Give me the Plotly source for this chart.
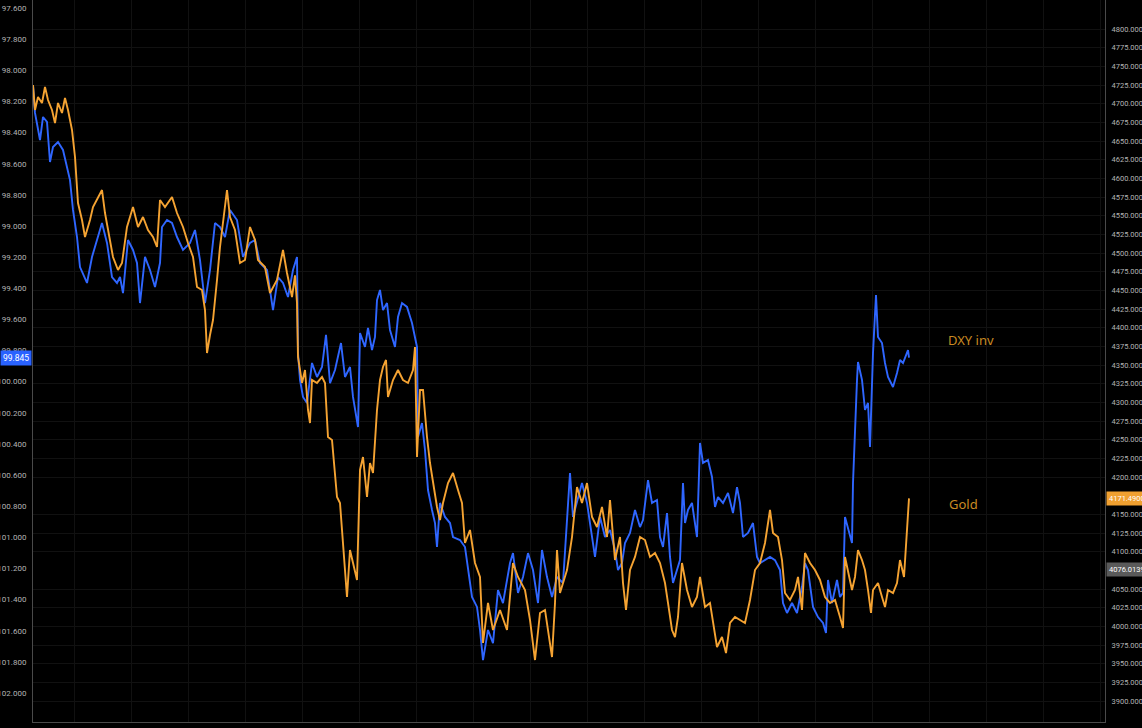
import plotly.graph_objects as go

# ---- data (bar index -> price) ----
dxy_t = [0,2,7,10,14,17,20,25,30,37,40,44,47,54,59,64,69,74,79,84,87,90,95,100,104,107,112,117,122,127,
         129,134,139,144,150,157,162,167,172,177,182,187,192,197,204,210,217,222,227,234,240,245,250,255,260,264,
         265,267,270,274,279,284,289,293,297,302,308,312,317,320,325,327,332,335,339,342,344,347,350,354,357,362,
         365,369,374,379,382,384,385,389,392,395,399,402,404,407,412,417,420,427,432,435,439,444,447,450,455,460,
         465,470,477,480,485,490,495,500,505,509,514,519,524,530,535,537,540,549,554,559,562,567,572,577,582,585,
         589,592,597,602,607,610,615,619,624,627,630,634,637,640,644,647,650,652,655,659,664,667,670,675,679,682,
         685,690,695,700,704,707,710,715,720,724,727,732,737,742,747,750,754,759,764,769,772,775,780,785,790,793,
         795,799,804,807,810,812,815,819,820,822,824,825,829,832,835,837,839,840,843,845,849,852,855,860,864,867,
         870,875,876]
dxy_inv = [98.095,98.274,98.448,98.300,98.332,98.589,98.493,98.461,98.512,98.705,98.897,99.071,99.264,99.366,
           99.199,99.090,98.981,99.109,99.328,99.366,99.328,99.431,99.090,99.154,99.238,99.495,99.199,99.283,
           99.392,99.238,99.007,98.962,98.981,99.071,99.154,99.109,99.026,99.219,99.495,99.283,98.981,99.007,
           99.071,98.897,98.962,99.199,99.109,99.090,99.238,99.283,99.540,99.328,99.366,99.456,99.283,99.199,
           99.816,99.989,100.098,100.137,99.880,99.970,99.906,99.700,100.009,99.925,99.752,99.970,99.906,100.098,
           100.291,99.688,99.777,99.655,99.797,99.713,99.476,99.411,99.540,99.495,99.668,99.777,99.585,99.495,
           99.520,99.623,99.713,99.777,100.355,100.266,100.439,100.696,100.824,100.908,101.062,100.779,100.869,
           100.908,100.998,101.017,101.062,101.210,101.383,101.447,101.595,101.788,101.595,101.679,101.338,
           101.422,101.165,101.101,101.357,101.255,101.101,101.210,101.422,101.081,101.255,101.383,101.255,
           101.293,100.824,100.587,100.869,100.651,100.779,100.998,101.126,100.869,100.998,100.953,101.081,
           101.210,101.165,101.036,100.972,100.824,100.934,100.889,100.632,100.779,100.760,100.998,101.062,
           100.844,101.126,101.293,101.210,101.146,100.651,100.908,100.824,100.779,100.998,100.394,100.522,
           100.503,100.612,100.805,100.741,100.779,100.715,100.844,100.677,100.779,100.998,100.972,100.908,
           101.126,101.165,101.146,101.126,101.146,101.210,101.422,101.486,101.422,101.486,101.319,101.165,
           101.210,101.447,101.512,101.550,101.614,101.274,101.422,101.274,101.383,101.357,100.869,100.934,
           101.036,100.651,100.246,99.989,99.874,99.989,100.182,100.137,100.420,100.009,99.816,99.443,99.713,
           99.752,99.880,99.970,100.034,99.944,99.861,99.880,99.797,99.845]

gold_t = [0,2,5,9,12,15,19,22,25,29,32,35,39,42,45,49,52,57,60,65,69,72,75,80,85,89,94,100,105,110,115,120,
          124,127,132,139,144,150,155,160,164,169,172,174,177,180,184,187,194,197,202,207,212,217,222,225,232,
          237,244,250,254,259,262,264,265,269,272,275,277,279,284,289,292,295,299,302,304,307,310,314,317,320,
          324,327,330,334,337,340,344,347,350,353,355,360,365,370,375,380,382,384,387,390,394,397,400,404,407,
          410,415,420,425,429,432,437,442,447,450,455,460,467,474,480,485,492,497,502,507,512,519,522,524,527,
          534,539,544,549,554,559,564,569,574,577,582,587,590,593,597,602,607,612,617,622,627,632,635,639,642,
          645,649,654,659,664,667,672,677,680,684,689,693,697,702,707,712,717,722,727,732,737,740,745,749,752,
          757,762,765,769,772,777,782,787,792,797,802,807,810,812,815,819,822,825,829,832,835,838,840,845,849,
          852,855,860,864,867,871,874,876]
gold = [4725.0,4691.5,4708.9,4700.9,4722.3,4704.9,4691.5,4674.1,4700.9,4687.5,4707.6,4691.5,4664.8,4628.6,
        4567.0,4544.2,4521.5,4544.2,4561.6,4575.0,4584.4,4553.6,4530.8,4494.7,4477.3,4486.6,4534.9,4561.6,
        4534.9,4548.2,4530.8,4521.5,4508.1,4571.0,4561.6,4575.0,4553.6,4534.9,4513.4,4494.7,4454.5,4450.5,
        4423.7,4366.1,4390.2,4410.3,4463.9,4508.1,4584.4,4548.2,4530.8,4486.6,4490.7,4534.9,4517.4,4490.7,
        4481.3,4446.5,4463.9,4504.1,4473.3,4441.1,4470.0,4433.1,4360.8,4326.0,4343.4,4289.8,4272.4,4330.0,
        4326.0,4334.0,4326.0,4253.6,4249.6,4209.5,4173.3,4165.3,4111.7,4039.4,4102.3,4084.9,4062.2,4209.5,
        4226.9,4173.3,4218.8,4205.4,4289.8,4330.0,4347.4,4356.8,4307.2,4330.0,4343.4,4330.0,4326.0,4343.4,
        4374.2,4226.9,4316.6,4316.6,4253.6,4218.8,4192.0,4159.9,4142.5,4165.3,4192.0,4205.4,4182.7,4165.3,
        4111.7,4129.1,4084.9,4066.2,3977.8,4031.4,3995.2,4022.0,3995.2,4084.9,4066.2,4048.8,4008.6,3955.0,
        4018.0,4022.0,3959.0,4031.4,4102.3,4044.7,4075.5,4119.7,4186.7,4165.3,4192.0,4146.5,4133.1,4159.9,
        4119.7,4169.3,4088.9,4119.7,4058.1,4022.0,4075.5,4093.0,4119.7,4115.7,4093.0,4098.3,4084.9,4058.1,
        4031.4,3995.2,3985.8,4012.6,4084.9,4048.8,4026.0,4039.4,4066.2,4026.0,4031.4,4004.6,3972.4,3985.8,
        3964.4,4004.6,4012.6,4008.6,4004.6,4035.4,4075.5,4084.9,4111.7,4155.9,4125.1,4119.7,4088.9,4044.7,
        4035.4,4048.8,4066.2,4022.0,4098.3,4084.9,4075.5,4062.2,4039.4,4031.4,4035.4,4012.6,3997.9,4093.0,
        4075.5,4048.8,4066.2,4102.3,4088.9,4075.5,4048.8,4018.0,4048.8,4058.1,4039.4,4026.0,4048.8,4044.7,
        4058.1,4088.9,4066.2,4129.1,4171.5]

assert len(dxy_t) == len(dxy_inv), (len(dxy_t), len(dxy_inv))
assert len(gold_t) == len(gold), (len(gold_t), len(gold))

dxy_last = 99.845
dxy_last_label = "99.845"
gold_last = 4171.49
gold_last_label = "4171.4900"
other_last = 4076.0139
other_last_label = "4076.0139"

dxy_ticks = [round(97.6 + 0.2 * i, 1) for i in range(23)]
# right-scale labels hidden under the last-value tags are left out, as in the original
gold_ticks = [3900 + 25 * i for i in range(37) if (3900 + 25 * i) not in (4075, 4175)]

BLUE = "#2f66ff"
ORANGE = "#f5a332"
LABEL_GOLD = "#c88a22"
GRID = "#111111"
AXIS_TXT = "#b4b4b4"

fig = go.Figure()
fig.add_trace(go.Scatter(x=dxy_t, y=dxy_inv, mode="lines", name="DXY inv", yaxis="y",
                         line=dict(color=BLUE, width=1.9), hoverinfo="skip"))
fig.add_trace(go.Scatter(x=gold_t, y=gold, mode="lines", name="Gold", yaxis="y2",
                         line=dict(color=ORANGE, width=1.9), hoverinfo="skip"))

fig.update_layout(
    width=1142, height=728,
    margin=dict(l=33, r=37, t=0, b=6, autoexpand=False),
    paper_bgcolor="#000000", plot_bgcolor="#000000",
    showlegend=False,
    font=dict(family="Roboto, sans-serif", size=8, color=AXIS_TXT),
    xaxis=dict(range=[0, 1072], showticklabels=False, showgrid=True, gridcolor=GRID,
               tick0=41, dtick=57, zeroline=False, showline=True, linecolor="#4a4a4a",
               linewidth=1, automargin=False, fixedrange=True),
    yaxis=dict(range=[102.186, 97.5486], tickvals=dxy_ticks,
               ticktext=[f"{v:.3f}" for v in dxy_ticks], showgrid=False, zeroline=False,
               showline=True, linecolor="#4a4a4a", linewidth=1, ticks="", automargin=False,
               ticklabelstandoff=4, tickfont=dict(size=8, color=AXIS_TXT)),
    yaxis2=dict(range=[3872.0, 4838.83], overlaying="y", side="right", tickvals=gold_ticks,
                ticktext=[f"{v:.4f}" for v in gold_ticks], showgrid=True, gridcolor=GRID,
                zeroline=False, showline=True, linecolor="#4a4a4a", linewidth=1, ticks="",
                automargin=False, ticklabelstandoff=4, tickfont=dict(size=7.5, color=AXIS_TXT)),
)

# last-value tags
fig.add_annotation(xref="paper", x=0, xanchor="right", yref="y", y=dxy_last, text=dxy_last_label,
                   showarrow=False, bgcolor="#2962ff", font=dict(color="#ffffff", size=8.5),
                   borderpad=2, xshift=-1)
fig.add_annotation(xref="paper", x=1, xanchor="left", yref="y2", y=gold_last, text=gold_last_label,
                   showarrow=False, bgcolor="#f0a030", font=dict(color="#ffffff", size=7.5),
                   borderpad=2, xshift=1)
fig.add_annotation(xref="paper", x=1, xanchor="left", yref="y2", y=other_last, text=other_last_label,
                   showarrow=False, bgcolor="#5a5a5a", font=dict(color="#ffffff", size=7.5),
                   borderpad=2, xshift=1)

# series names
fig.add_annotation(xref="x", x=913, xanchor="left", yref="y", y=99.732, text="DXY inv",
                   showarrow=False, font=dict(color=LABEL_GOLD, size=13, family="Noto Sans"))
fig.add_annotation(xref="x", x=914, xanchor="left", yref="y2", y=4163.9, text="Gold",
                   showarrow=False, font=dict(color=LABEL_GOLD, size=13, family="Noto Sans"))

fig.write_html("out.html", config={"displayModeBar": False},
               post_script="document.body.style.margin='0px';document.body.style.background='#000';")
